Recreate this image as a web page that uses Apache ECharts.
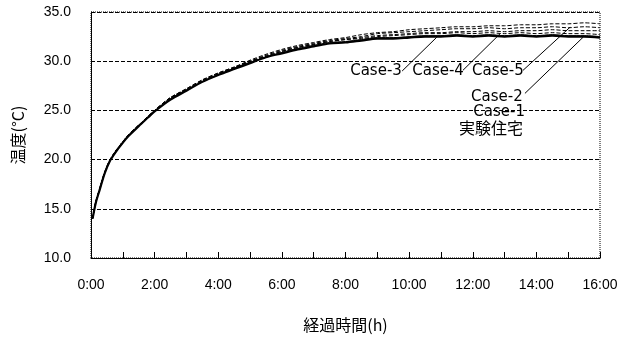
<!DOCTYPE html>
<html><head><meta charset="utf-8">
<script src="https://cdn.jsdelivr.net/npm/echarts@6/dist/echarts.min.js"></script>
<style>html,body{margin:0;padding:0;background:#fff}#c{width:632px;height:339px}</style>
</head><body><div id="c"></div>
<script>
const times = [0.05,0.15,0.27,0.43,0.6,0.72,0.85,1.15,1.5,1.8,2,2.5,3,3.5,4,4.5,5,5.5,6,6.5,7,7.5,8,8.5,9,9.5,10,10.5,11,11.5,12,12.5,13,13.5,14,14.5,15,15.5,16];
const measured = [14.0,15.6,16.9,18.6,19.9,20.5,21.1,22.3,23.4,24.3,24.9,26.1,27.0,27.9,28.6,29.2,29.8,30.4,30.8,31.2,31.5,31.8,31.9,32.1,32.3,32.3,32.4,32.5,32.5,32.6,32.5,32.6,32.5,32.6,32.5,32.6,32.5,32.5,32.4];
const case1 = [14.0,15.6,16.9,18.6,19.9,20.5,21.1,22.3,23.4,24.3,24.9,26.2,27.1,27.9,28.6,29.3,29.9,30.4,30.9,31.3,31.6,31.9,32.0,32.2,32.4,32.4,32.5,32.6,32.6,32.7,32.6,32.7,32.6,32.7,32.6,32.7,32.6,32.6,32.5];
const case2 = [14.0,15.7,17.0,18.7,20.0,20.6,21.2,22.4,23.5,24.4,25.0,26.3,27.1,28.0,28.7,29.3,30.0,30.5,31.0,31.4,31.7,32.0,32.2,32.3,32.5,32.6,32.7,32.8,32.8,32.9,32.8,32.9,32.8,32.9,32.8,32.9,32.8,32.8,32.7];
const case3 = [14.0,15.7,17.0,18.7,20.0,20.6,21.2,22.4,23.5,24.4,25.0,26.3,27.1,28.0,28.7,29.3,29.9,30.5,31.0,31.4,31.7,32.0,32.2,32.4,32.6,32.7,32.8,32.9,32.9,33.0,33.0,33.1,33.0,33.1,33.1,33.2,33.1,33.1,33.1];
const case4 = [14.0,15.7,17.0,18.7,20.0,20.6,21.2,22.4,23.5,24.4,25.0,26.3,27.2,28.1,28.8,29.4,30.0,30.6,31.1,31.5,31.8,32.1,32.3,32.5,32.8,32.9,33.0,33.1,33.2,33.3,33.3,33.4,33.3,33.4,33.4,33.5,33.4,33.5,33.4];
const case5 = [14.0,15.7,17.0,18.7,20.0,20.6,21.2,22.4,23.5,24.4,25.0,26.3,27.2,28.1,28.8,29.4,30.1,30.7,31.2,31.6,31.9,32.2,32.4,32.7,32.9,33.0,33.2,33.3,33.4,33.5,33.5,33.6,33.6,33.7,33.7,33.8,33.8,33.9,33.8];
const seriesNames = ['実験住宅','Case-1','Case-2','Case-3','Case-4','Case-5'];
const xTickLabels = ['0:00','2:00','4:00','6:00','8:00','10:00','12:00','14:00','16:00'];
// annotation anchors in data space [hours, °C]
const labelAnchors = [
  ['Case-3', 8.96, 28.97], ['Case-4', 10.91, 28.97], ['Case-5', 12.79, 28.97],
  ['Case-2', 12.76, 26.33], ['Case-1', 12.83, 24.8], ['実験住宅', 12.57, 23.2]
];
const leaderLines = [
  [[9.78,29.0],[10.87,32.44]],
  [[11.69,29.07],[12.86,32.79]],
  [[13.58,29.07],[15.06,33.46]],
  [[13.64,26.73],[15.47,32.44]]
];

const pair = arr => times.map((t,i)=>[t,arr[i]]);
const chart = echarts.init(document.getElementById('c'), null, {renderer:'canvas'});
const labelFont = 'DejaVu Sans, "Noto Sans CJK JP", sans-serif';
const cjk = '"Noto Sans CJK JP", sans-serif';
const allData = [measured, case1, case2, case3, case4, case5];
const styles = [
  {width:2.2, type:'solid'},
  {width:1, type:'solid'},
  {width:1, type:[4,2]},
  {width:1, type:[4,2]},
  {width:1, type:[4,2]},
  {width:1, type:[4,2]}
];
const series = allData.map((d,i)=>({
  name: seriesNames[i], type:'line', data: pair(d), showSymbol:false,
  smooth:0.3,
  lineStyle:{color:'#000', width:styles[i].width, type:styles[i].type},
  z: i===0 ? 5 : 3
})).reverse();
series.push({
  type:'line', data:[], silent:true,
  markLine:{symbol:'none', silent:true, animation:false,
    lineStyle:{color:'#000', width:1, type:'solid'}, label:{show:false},
    data: leaderLines.map(l=>[{coord:l[0]},{coord:l[1]}])},
  markPoint:{symbol:'circle', symbolSize:0, silent:true, animation:false,
    label:{show:true, position:'inside', color:'#000', fontFamily:labelFont, fontSize:15,
      formatter: p => p.name},
    data: labelAnchors.map(a=>({name:a[0], coord:[a[1],a[2]],
      label: a[0]==='実験住宅' ? {fontFamily:cjk, fontSize:16} : {}}))}
});

chart.setOption({
  animation:false,
  backgroundColor:'#fff',
  grid:{left:91, right:32, top:12, bottom:81, show:true, borderColor:'#000', borderWidth:1, borderType:'dotted'},
  xAxis:{type:'value', min:0, max:16, interval:1,
    name:'経過時間(h)', nameLocation:'middle', nameGap:59,
    nameTextStyle:{fontFamily:cjk, fontSize:16, color:'#000'},
    axisLine:{show:true, lineStyle:{color:'#000', width:1}},
    axisTick:{show:true, inside:true, length:6, lineStyle:{color:'#000'}},
    axisLabel:{color:'#000', fontFamily:'Liberation Sans, Arial, sans-serif', fontSize:14, margin:20,
      formatter: v => (v % 2 === 0) ? xTickLabels[v/2] : ''},
    splitLine:{show:false}},
  yAxis:{type:'value', min:10, max:35, interval:5,
    name:'温度(°C)', nameLocation:'middle', nameGap:65, nameRotate:90,
    nameTextStyle:{fontFamily:cjk, fontSize:16, color:'#000'},
    axisLine:{show:true, lineStyle:{color:'#000', width:1}},
    axisTick:{show:false},
    axisLabel:{color:'#000', fontFamily:'Liberation Sans, Arial, sans-serif', fontSize:14, margin:20,
      padding:[8,0,0,0], formatter: v => v.toFixed(1)},
    splitLine:{show:true, lineStyle:{color:'#000', width:1, type:[4,2]}}},
  series: series
});
</script></body></html>
